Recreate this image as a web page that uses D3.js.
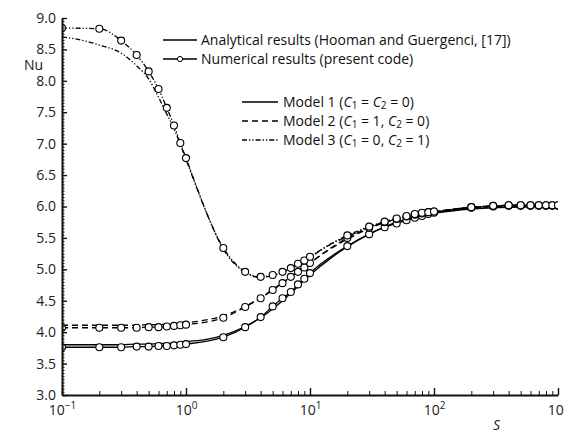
<!DOCTYPE html>
<html>
<head>
<meta charset="utf-8">
<script src="https://cdn.jsdelivr.net/npm/d3@7"></script>
<style>
  body { margin: 0; background: #fff; }
  svg { display: block; font-family: "Open Sans", sans-serif; }
  .axis path, .axis line { stroke: #111; }
  .axis text { font-size: 14px; fill: #222; font-family: "Open Sans", sans-serif; }
  .curve { fill: none; stroke: #000; stroke-width: 1.3; }
  .dot { fill: #fff; stroke: #000; stroke-width: 1.1; }
  .leg { font-size: 14px; fill: #111; }
</style>
</head>
<body>
<div id="chart"></div>
<script>
// numerical results (present code), circles
var sNum = [0.1, 0.2, 0.3, 0.4, 0.5, 0.6, 0.7, 0.8, 0.9,
            1, 2, 3, 4, 5, 6, 7, 8, 9,
            10, 20, 30, 40, 50, 60, 70, 80, 90,
            100, 200, 300, 400, 500, 600, 700, 800, 900, 1000];
var nuNum1 = [3.76, 3.76, 3.76, 3.77, 3.77, 3.78, 3.78, 3.79, 3.80,
              3.81, 3.92, 4.08, 4.24, 4.41, 4.54, 4.64, 4.76, 4.85,
              4.94, 5.37, 5.56, 5.67, 5.73, 5.78, 5.82, 5.85, 5.88,
              5.90, 5.98, 6.00, 6.01, 6.01, 6.01, 6.01, 6.01, 6.01, 6.01];
var nuNum2 = [4.07, 4.07, 4.07, 4.07, 4.08, 4.08, 4.09, 4.10, 4.11,
              4.12, 4.23, 4.40, 4.54, 4.67, 4.78, 4.88, 4.96, 5.03,
              5.10, 5.50, 5.66, 5.75, 5.80, 5.84, 5.87, 5.89, 5.91,
              5.92, 5.99, 6.01, 6.02, 6.02, 6.02, 6.02, 6.02, 6.02, 6.02];
var nuNum3 = [8.84, 8.83, 8.64, 8.41, 8.15, 7.87, 7.57, 7.29, 7.01,
              6.77, 5.34, 4.96, 4.88, 4.91, 4.96, 5.02, 5.09, 5.14,
              5.20, 5.54, 5.68, 5.76, 5.81, 5.85, 5.88, 5.90, 5.91,
              5.92, 5.99, 6.01, 6.02, 6.02, 6.02, 6.02, 6.02, 6.02, 6.02];

// analytical results (Hooman and Guergenci), lines only
var sAna = [0.1, 0.15, 0.2, 0.3, 0.4, 0.5, 0.6, 0.7, 0.8, 0.9, 1, 1.5, 2, 3, 4, 5,
            7, 10, 15, 20, 30, 50, 70, 100, 200, 500, 1000];
var nuAna1 = [3.80, 3.80, 3.80, 3.80, 3.81, 3.81, 3.82, 3.82, 3.83, 3.84, 3.85, 3.89, 3.95, 4.09, 4.23, 4.37,
              4.62, 4.91, 5.19, 5.36, 5.56, 5.75, 5.83, 5.89, 5.96, 5.99, 6.00];
var nuAna2 = [4.11, 4.11, 4.11, 4.11, 4.11, 4.12, 4.12, 4.13, 4.13, 4.14, 4.15, 4.20, 4.26, 4.41, 4.55, 4.68,
              4.88, 5.10, 5.34, 5.48, 5.65, 5.80, 5.86, 5.91, 5.98, 6.01, 6.02];
var nuAna3 = [8.70, 8.64, 8.57, 8.44, 8.24, 8.03, 7.74, 7.47, 7.24, 6.99, 6.75, 5.85, 5.32, 4.95, 4.87, 4.90,
              5.01, 5.19, 5.41, 5.52, 5.67, 5.80, 5.86, 5.91, 5.98, 6.01, 6.02];

var xTicks = [0.1, 1, 10, 100, 1000];
var xTickExp = ["\u22121", "0", "1", "2", "3"];
var yTicks = [3, 3.5, 4, 4.5, 5, 5.5, 6, 6.5, 7, 7.5, 8, 8.5, 9];

var models = [
  { name: "Model 1", mid: " = ", tail: " = 0)", dash: null },
  { name: "Model 2", mid: " = 1, ", tail: " = 0)", dash: "6,4" },
  { name: "Model 3", mid: " = 0, ", tail: " = 1)", dash: "5,2,1.3,2,1.3,2" }
];
var numSeries = [nuNum1, nuNum2, nuNum3];
var anaSeries = [nuAna1, nuAna2, nuAna3];

var width = 564, height = 435;
var margin = { top: 18, right: 6, bottom: 40, left: 62 };

var svg = d3.select('#chart').append('svg')
            .attr('width', width)
            .attr('height', height);

var x = d3.scaleLog().domain([0.1, 1000]).range([margin.left, width - margin.right]);
var y = d3.scaleLinear().domain([3, 9]).range([height - margin.bottom, margin.top]);

svg.append('clipPath').attr('id', 'plotclip')
   .append('rect')
   .attr('x', margin.left).attr('y', 0)
   .attr('width', width - margin.right - margin.left)
   .attr('height', height - margin.bottom);

var line = d3.line().curve(d3.curveMonotoneX)
             .x(function(d){ return x(d[0]); })
             .y(function(d){ return y(d[1]); });

var plot = svg.append('g').attr('clip-path', 'url(#plotclip)');

// analytical curves
anaSeries.forEach(function(vals, i) {
  plot.append('path')
      .datum(sAna.map(function(s, j){ return [s, vals[j]]; }))
      .attr('class', 'curve')
      .attr('stroke-dasharray', models[i].dash)
      .attr('d', line);
});

// numerical curves with circles
numSeries.forEach(function(vals, i) {
  var pts = sNum.map(function(s, j){ return [s, vals[j]]; });
  plot.append('path')
      .datum(pts)
      .attr('class', 'curve')
      .attr('stroke-dasharray', models[i].dash)
      .attr('d', line);
  plot.selectAll(null).data(pts).enter().append('circle')
      .attr('class', 'dot')
      .attr('cx', function(d){ return x(d[0]); })
      .attr('cy', function(d){ return y(d[1]); })
      .attr('r', 3.5);
});

// y axis, ticks pointing inward
var yMinor = d3.range(0, 121).map(function(i){ return 3 + i * 0.05; });
svg.append('g').attr('class', 'axis')
   .attr('transform', 'translate(' + margin.left + ',0)')
   .call(d3.axisLeft(y).tickValues(yMinor).tickSize(-2.5).tickFormat(''))
   .select('.domain').remove();
var axisY = svg.append('g').attr('class', 'axis')
   .attr('transform', 'translate(' + margin.left + ',0)')
   .call(d3.axisLeft(y).tickValues(yTicks).tickSizeInner(-5).tickSizeOuter(0)
         .tickPadding(6).tickFormat(d3.format('.1f')));
axisY.select('.domain').attr('stroke-width', 2);
axisY.selectAll('line').attr('stroke-width', 1.4);
axisY.selectAll('text').attr('x', -6);

// x axis, ticks pointing up
var xMinor = [];
[0.1, 1, 10, 100].forEach(function(d) {
  for (var k = 2; k <= 9; k++) xMinor.push(d * k);
});
svg.append('g').attr('class', 'axis')
   .attr('transform', 'translate(0,' + y(3) + ')')
   .call(d3.axisBottom(x).tickValues(xMinor).tickSize(-4).tickFormat(''))
   .select('.domain').remove();
var axisX = svg.append('g').attr('class', 'axis')
   .attr('transform', 'translate(0,' + y(3) + ')')
   .call(d3.axisBottom(x).tickValues(xTicks).tickSizeInner(-7).tickSizeOuter(0).tickFormat(''));
axisX.select('.domain').attr('stroke-width', 2);
axisX.selectAll('line').attr('stroke-width', 1.4);
axisX.selectAll('.tick').append('text')
     .attr('y', 20)
     .attr('fill', '#222')
     .attr('text-anchor', 'middle')
     .each(function(d, i) {
       var t = d3.select(this);
       t.append('tspan').text('10');
       t.append('tspan').attr('dy', -6).style('font-size', '10px').text(xTickExp[i]);
     });

// axis titles
svg.append('text').attr('x', 24).attr('y', 70).style('font-size', '14px').attr('fill', '#222').text('Nu');
svg.append('text').attr('x', 493).attr('y', 430).style('font-size', '14px').style('font-style', 'italic')
   .attr('fill', '#222').text('S');

// legend: analytical / numerical
var leg = svg.append('g');
leg.append('line').attr('x1', 163).attr('x2', 197).attr('y1', 40).attr('y2', 40)
   .attr('stroke', '#000').attr('stroke-width', 1.4);
leg.append('text').attr('class', 'leg').attr('x', 201).attr('y', 45)
   .text('Analytical results (Hooman and Guergenci, [17])');
leg.append('line').attr('x1', 163).attr('x2', 197).attr('y1', 59).attr('y2', 59)
   .attr('stroke', '#000').attr('stroke-width', 1.4);
leg.append('circle').attr('cx', 180).attr('cy', 59).attr('r', 2.6)
   .attr('fill', '#fff').attr('stroke', '#000').attr('stroke-width', 1);
leg.append('text').attr('class', 'leg').attr('x', 201).attr('y', 64)
   .text('Numerical results (present code)');

// legend: models
models.forEach(function(m, i) {
  var yy = 102 + i * 19;
  leg.append('line').attr('x1', 242).attr('x2', 278).attr('y1', yy).attr('y2', yy)
     .attr('stroke', '#000').attr('stroke-width', 1.3)
     .attr('stroke-dasharray', m.dash);
  var t = leg.append('text').attr('class', 'leg').attr('x', 283).attr('y', yy + 5);
  t.append('tspan').text(m.name + ' (');
  t.append('tspan').style('font-style', 'italic').text('C');
  t.append('tspan').style('font-size', '10px').attr('dy', 2).text('1');
  t.append('tspan').attr('dy', -2).text(m.mid);
  t.append('tspan').style('font-style', 'italic').text('C');
  t.append('tspan').style('font-size', '10px').attr('dy', 2).text('2');
  t.append('tspan').attr('dy', -2).text(m.tail);
});
</script>
</body>
</html>
